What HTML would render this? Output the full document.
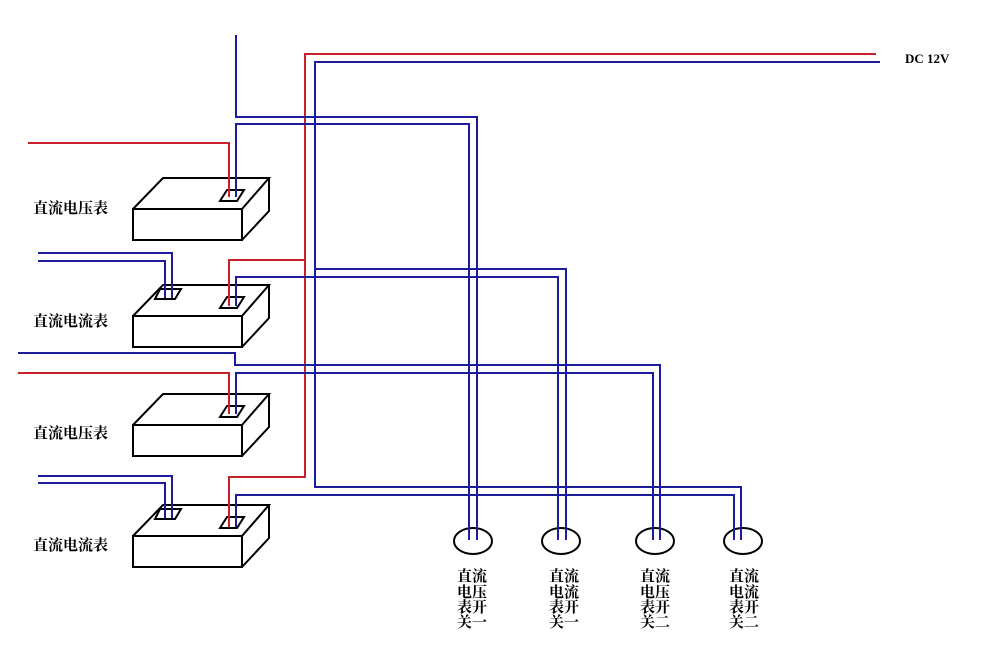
<!DOCTYPE html>
<html><head><meta charset="utf-8"><style>
html,body{margin:0;padding:0;background:#fff;}
svg{display:block;}
text{font-family:"Liberation Serif","Noto Serif CJK SC","Noto Sans CJK SC",serif;font-size:15px;fill:#000;font-weight:bold;}
</style></head><body>
<svg width="985" height="645" viewBox="0 0 985 645" xmlns="http://www.w3.org/2000/svg">
<g fill="none" stroke="#000" stroke-width="2">
<g>
<rect x="133" y="209" width="109" height="31"/>
<polyline points="133,209 163,178 269,178 242,209"/>
<polyline points="269,178 269,211 242,240"/>
<polygon points="220,201 227,190 244,190 237,201"/>
</g>
<g transform="translate(0,107)">
<rect x="133" y="209" width="109" height="31"/>
<polyline points="133,209 163,178 269,178 242,209"/>
<polyline points="269,178 269,211 242,240"/>
<polygon points="220,201 227,190 244,190 237,201"/>
<polygon points="155,192 160,182 181,182 175,192"/>
</g>
<g transform="translate(0,216)">
<rect x="133" y="209" width="109" height="31"/>
<polyline points="133,209 163,178 269,178 242,209"/>
<polyline points="269,178 269,211 242,240"/>
<polygon points="220,201 227,190 244,190 237,201"/>
</g>
<g transform="translate(0,327)">
<rect x="133" y="209" width="109" height="31"/>
<polyline points="133,209 163,178 269,178 242,209"/>
<polyline points="269,178 269,211 242,240"/>
<polygon points="220,201 227,190 244,190 237,201"/>
<polygon points="155,192 160,182 181,182 175,192"/>
</g>
<ellipse cx="473" cy="541" rx="19" ry="13"/>
<ellipse cx="561" cy="541" rx="19" ry="13"/>
<ellipse cx="655" cy="541" rx="19" ry="13"/>
<ellipse cx="743" cy="541" rx="19" ry="13"/>
</g>
<g fill="none" stroke="#c8202a" stroke-width="2">
<polyline points="28,143 229,143 229,197"/>
<polyline points="876,54 305,54 305,477 229,477 229,527"/>
<polyline points="305,260 229,260 229,306"/>
<polyline points="18,373 229,373 229,414"/>
</g>
<g fill="none" stroke="#1c1c9c" stroke-width="2">
<polyline points="236,35 236,117 477,117 477,540"/>
<polyline points="236,197 236,124 469,124 469,540"/>
<polyline points="880,62 315,62 315,487 741,487 741,540"/>
<polyline points="315,269 566,269 566,540"/>
<polyline points="236,306 236,277 558,277 558,540"/>
<polyline points="18,353 235,353 235,365 660,365 660,540"/>
<polyline points="236,414 236,373 653,373 653,540"/>
<polyline points="236,527 236,495 734,495 734,540"/>
<polyline points="38,253 172,253 172,298"/>
<polyline points="38,261 165,261 165,298"/>
<polyline points="38,476 172,476 172,518"/>
<polyline points="38,483 165,483 165,518"/>
</g>
<text x="905" y="63" style="font-size:13px;font-family:'Liberation Serif',serif;">DC 12V</text>
<text x="33" y="213">直流电压表</text>
<text x="33" y="326">直流电流表</text>
<text x="33" y="438">直流电压表</text>
<text x="33" y="550">直流电流表</text>
<g>
<text x="457" y="581">直流</text><text x="457" y="597">电压</text><text x="457" y="612">表开</text><text x="457" y="627">关一</text>
<text x="549" y="581">直流</text><text x="549" y="597">电流</text><text x="549" y="612">表开</text><text x="549" y="627">关一</text>
<text x="640" y="581">直流</text><text x="640" y="597">电压</text><text x="640" y="612">表开</text><text x="640" y="627">关二</text>
<text x="729" y="581">直流</text><text x="729" y="597">电流</text><text x="729" y="612">表开</text><text x="729" y="627">关二</text>
</g>
</svg>
</body></html>
